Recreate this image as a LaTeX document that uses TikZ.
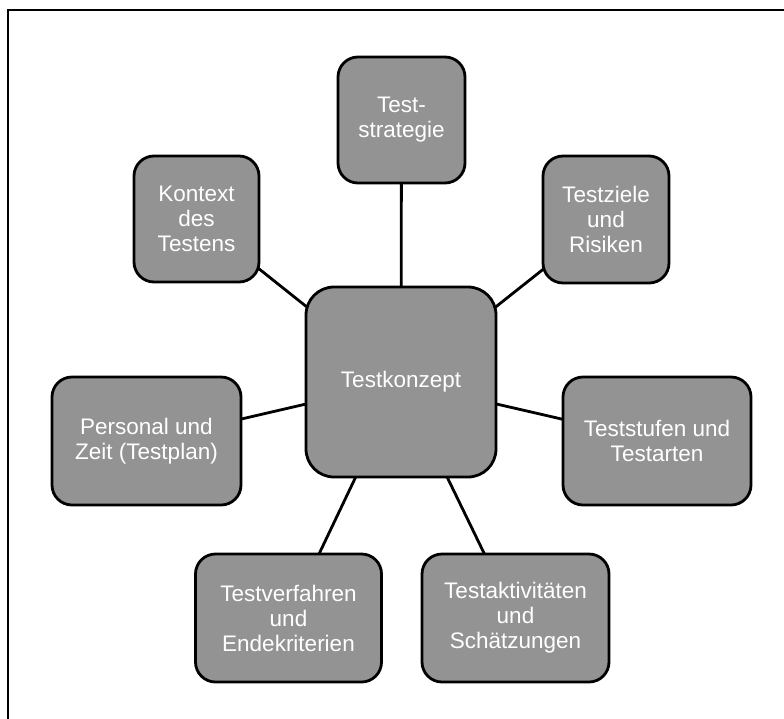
\documentclass[tikz,border=0pt]{standalone}
\usepackage{fontspec}
\setmainfont{Liberation Sans}
\usetikzlibrary{backgrounds}
\definecolor{boxgray}{RGB}{147,147,147}
\tikzset{
  topic/.style={rectangle, draw=black, line width=2.8pt, fill=boxgray,
    rounded corners=20pt, inner sep=0pt, align=center, text=white,
    font=\fontsize{22.5}{25}\selectfont},
  hub/.style={topic, rounded corners=28pt},
  link/.style={draw=black, line width=2.8pt}
}
\begin{document}
\begin{tikzpicture}[x=1pt,y=-1pt]
\useasboundingbox (0,0) rectangle (784,718);
% outer frame (only its top and left edges lie inside the page)
\draw[line width=2pt] (8,730) -- (8,10) -- (800,10);

\node[hub, minimum width=190pt, minimum height=190pt] (konzept) at (401,382) {Testkonzept};
\node[topic, minimum width=127pt, minimum height=126pt] (strategie) at (401.5,120) {Test-\\strategie};
\node[topic, minimum width=125pt, minimum height=126pt] (kontext) at (196.5,219) {Kontext\\des\\Testens};
\node[topic, minimum width=126pt, minimum height=127pt] (ziele) at (606,219.5) {Testziele\\und\\Risiken};
\node[topic, minimum width=189pt, minimum height=128pt] (personal) at (146.5,441) {Personal und\\Zeit (Testplan)};
\node[topic, minimum width=188pt, minimum height=128pt] (stufen) at (657,441) {Teststufen und\\Testarten};
\node[topic, minimum width=186pt, minimum height=128pt] (verfahren) at (288.5,618) {Testverfahren\\und\\Endekriterien};
\node[topic, minimum width=187pt, minimum height=128pt] (aktiv) at (515.5,618) {Testaktivitäten\\und\\Schätzungen};

% spokes from the hub, drawn beneath the boxes
\begin{scope}[on background layer]
  \fill[white] (0,0) rectangle (784,718);
  \foreach \n in {strategie,kontext,ziele,personal,stufen,verfahren,aktiv}
    \draw[link] (konzept.center) -- (\n.center);
\end{scope}
\end{tikzpicture}
\end{document}
